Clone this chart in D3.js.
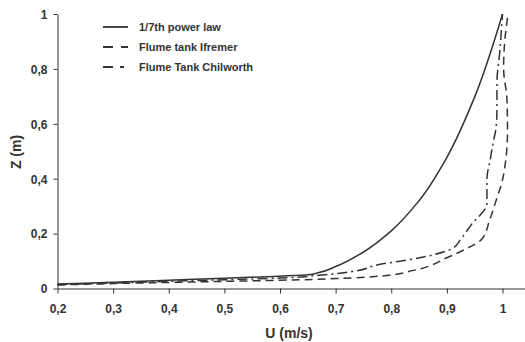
<!DOCTYPE html>
<html>
<head>
<meta charset="utf-8">
<script src="https://cdn.jsdelivr.net/npm/d3@7"></script>
<style>
    body { margin: 0; background: #fff; }
    svg { display: block; font-family: "Liberation Sans", Arial, sans-serif; }
    .axis text { font-size: 12px; font-weight: bold; fill: #333; }
    .axis path, .axis line { stroke: #333; stroke-width: 1; }
</style>
</head>
<body>
<svg id="chart" width="525" height="342"></svg>
<script>
// values (U in m/s, Z in m)
const powerLawU = [0.2, 0.3, 0.4, 0.5, 0.6, 0.65, 0.67, 0.7, 0.75, 0.8, 0.85, 0.9, 0.95, 1.0];
const powerLawZ = [0.016, 0.023, 0.030, 0.037, 0.045, 0.05, 0.058, 0.08, 0.133, 0.21, 0.32, 0.478, 0.698, 1.0];

const ifremerU = [0.2, 0.3, 0.4, 0.5, 0.6, 0.7, 0.78, 0.84, 0.9, 0.935, 0.963, 0.977, 0.99, 0.998, 1.006, 1.009, 1.008, 1.002, 1.004, 1.01];
const ifremerZ = [0.013, 0.018, 0.022, 0.026, 0.03, 0.036, 0.045, 0.066, 0.112, 0.145, 0.18, 0.25, 0.33, 0.38, 0.47, 0.57, 0.69, 0.8, 0.9, 1.0];

const chilworthU = [0.2, 0.3, 0.4, 0.5, 0.6, 0.67, 0.73, 0.78, 0.83, 0.91, 0.925, 0.943, 0.972, 0.972, 0.978, 0.983, 0.988, 0.99, 0.99, 0.995, 1.0];
const chilworthZ = [0.014, 0.02, 0.026, 0.032, 0.038, 0.048, 0.062, 0.088, 0.104, 0.146, 0.18, 0.23, 0.31, 0.4, 0.47, 0.53, 0.58, 0.65, 0.75, 0.86, 1.0];

const xTicks = [0.2, 0.3, 0.4, 0.5, 0.6, 0.7, 0.8, 0.9, 1];
const yTicks = [0, 0.2, 0.4, 0.6, 0.8, 1];

const seriesNames = ['1/7th power law', 'Flume tank Ifremer', 'Flume Tank Chilworth'];
const dashes = [null, '8,5', '10,4,2,4'];
const legendDashes = [null, '10,8', '10,7,4,10'];

const series = [
    {name: seriesNames[0], u: powerLawU, z: powerLawZ},
    {name: seriesNames[1], u: ifremerU, z: ifremerZ},
    {name: seriesNames[2], u: chilworthU, z: chilworthZ}
];

const svg = d3.select('#chart');

const x = d3.scaleLinear().domain([0.2, 1.04]).range([57.5, 524.75]);
const y = d3.scaleLinear().domain([0, 1]).range([288.5, 14]);

const fmt = d => (d === 0 || d === 1) ? String(d) : String(d).replace('.', ',');

svg.append('g')
    .attr('class', 'axis')
    .attr('transform', 'translate(0,' + y(0) + ')')
    .call(d3.axisBottom(x).tickValues(xTicks).tickFormat(fmt).tickSize(5).tickSizeOuter(0).tickPadding(11));

svg.append('g')
    .attr('class', 'axis')
    .attr('transform', 'translate(' + x(0.2) + ',0)')
    .call(d3.axisLeft(y).tickValues(yTicks).tickFormat(fmt).tickSize(4).tickSizeOuter(0).tickPadding(6))
    .selectAll('text').attr('dy', '0.36em');

const line = d3.line()
    .x(d => x(d[0]))
    .y(d => y(d[1]))
    .curve(d3.curveMonotoneY);

series.forEach((s, i) => {
    svg.append('path')
        .datum(s.u.map((u, j) => [u, s.z[j]]))
        .attr('d', line)
        .attr('fill', 'none')
        .attr('stroke', '#333')
        .attr('stroke-width', 1.5)
        .attr('stroke-dasharray', dashes[i]);
});

// legend
const legend = svg.append('g');
series.forEach((s, i) => {
    const ly = 27 + i * 20;
    legend.append('line')
        .attr('x1', 103).attr('x2', 128)
        .attr('y1', ly).attr('y2', ly)
        .attr('stroke', '#333')
        .attr('stroke-width', 1.8)
        .attr('stroke-dasharray', legendDashes[i]);
    legend.append('text')
        .attr('x', 139).attr('y', ly)
        .attr('dy', '0.35em')
        .style('font-size', '11px')
        .style('font-weight', 'bold')
        .style('fill', '#333')
        .text(s.name);
});

// axis titles
svg.append('text')
    .attr('x', 289).attr('y', 338)
    .attr('text-anchor', 'middle')
    .style('font-size', '14px').style('font-weight', 'bold').style('fill', '#333')
    .text('U (m/s)');

svg.append('text')
    .attr('transform', 'translate(21,152) rotate(-90)')
    .attr('text-anchor', 'middle')
    .style('font-size', '14px').style('font-weight', 'bold').style('fill', '#333')
    .text('Z (m)');
</script>
</body>
</html>
